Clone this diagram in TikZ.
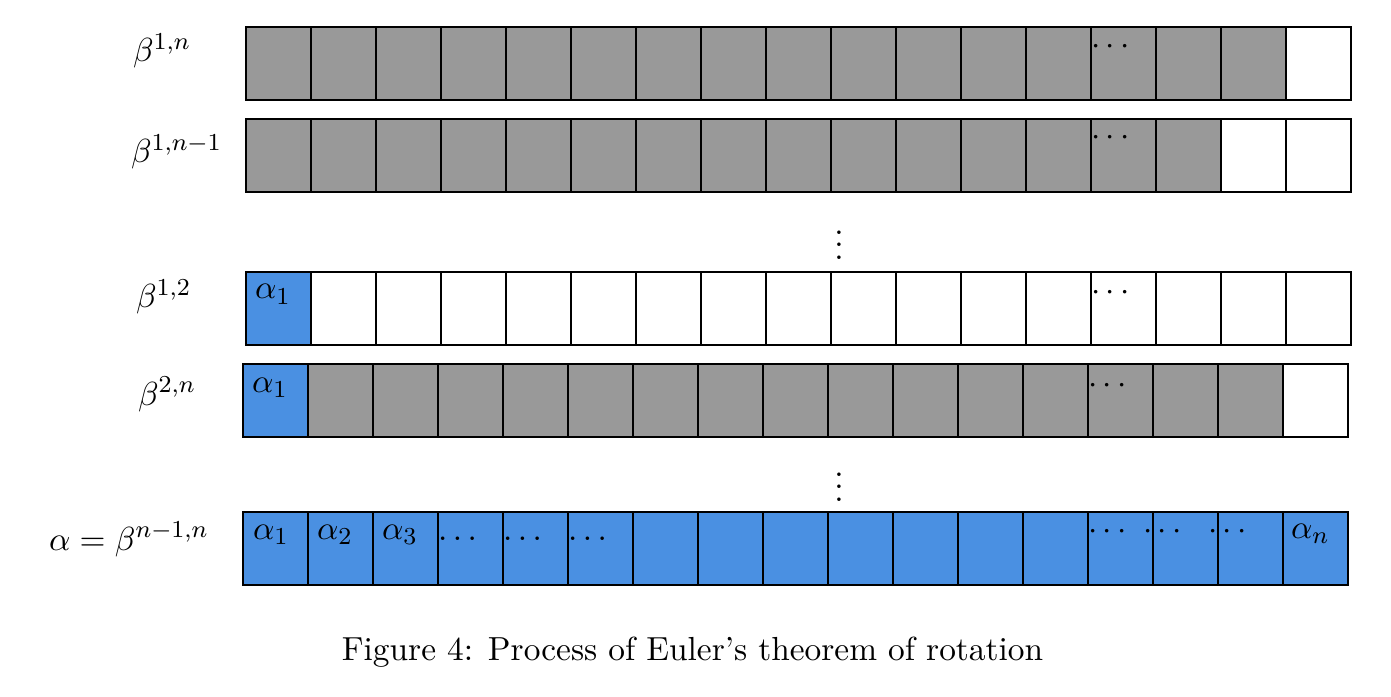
\documentclass[tikz,border=0pt]{standalone}
\definecolor{cellblue}{HTML}{4A90E2}
\definecolor{cellgray}{HTML}{999999}
\tikzset{
  cell/.style={draw=black, thick, rectangle, anchor=north west, minimum width=0.75cm, minimum height=0.8423cm, inner sep=0pt, outer sep=0pt},
  graycell/.style={cell, fill=cellgray},
  bluecell/.style={cell, fill=cellblue},
  whitecell/.style={cell, fill=white},
  txt/.style={font=\fontsize{10.95}{13.6}\selectfont, inner sep=0pt, outer sep=0pt, anchor=base west},
  ctxt/.style={txt, anchor=base},
}
\begin{document}
\begin{tikzpicture}[x=0.011538cm, y=-0.011538cm]
\useasboundingbox (0,0) rectangle (1391,697);

% Row 1: beta^{1,n}
\foreach \i in {1,...,16} \node[graycell] (a\i) at ({246+65*(\i-1)},27) {};
\node[whitecell] (a17) at (1286,27) {};
\node[txt] (a14t) at (1091,55) {$\cdots$};
\node[txt] (lab1) at (133,62) {$\beta^{1,n}$};

% Row 2: beta^{1,n-1}
\foreach \i in {1,...,15} \node[graycell] (b\i) at ({246+65*(\i-1)},119) {};
\node[whitecell] (b16) at (1221,119) {};
\node[whitecell] (b17) at (1286,119) {};
\node[txt] (b14t) at (1091,146) {$\cdots$};
\node[txt] (lab2) at (131,163) {$\beta^{1,n-1}$};

\node[ctxt] (vd1) at (839,259) {$\vdots$};

% Row 3: beta^{1,2}
\node[bluecell] (c1) at (246,272) {};
\foreach \i in {2,...,17} \node[whitecell] (c\i) at ({246+65*(\i-1)},272) {};
\node[txt] (c1t) at (255,299) {$\alpha_1$};
\node[txt] (c14t) at (1091,301) {$\cdots$};
\node[txt] (lab3) at (136,308) {$\beta^{1,2}$};

% Row 4: beta^{2,n}
\node[bluecell] (d1) at (243,364) {};
\foreach \i in {2,...,16} \node[graycell] (d\i) at ({243+65*(\i-1)},364) {};
\node[whitecell] (d17) at (1283,364) {};
\node[txt] (d1t) at (252,392) {$\alpha_1$};
\node[txt] (d14t) at (1088,393) {$\cdots$};
\node[txt] (lab4) at (138,405) {$\beta^{2,n}$};

\node[ctxt] (vd2) at (839,501) {$\vdots$};

% Row 5: alpha = beta^{n-1,n}
\foreach \i in {1,...,17} \node[bluecell] (e\i) at ({243+65*(\i-1)},512) {};
\node[txt] (e1t) at (253,539) {$\alpha_1$};
\node[txt] (e2t) at (317,539) {$\alpha_2$};
\node[txt] (e3t) at (382,539) {$\alpha_3$};
\node[txt] (e4t) at (438,540) {$\ldots$};
\node[txt] (e5t) at (503,540) {$\ldots$};
\node[txt] (e6t) at (568,540) {$\ldots$};
\node[txt] (e14t) at (1088,539) {$\cdots$};
\node[txt] (e15t) at (1143,539) {$\cdots$};
\node[txt] (e16t) at (1208,539) {$\cdots$};
\node[txt] (e17t) at (1291,538) {$\alpha_n$};
\node[txt] (lab5) at (49,550) {$\alpha=\beta^{n-1,n}$};

% Caption
\node[ctxt] (cap) at (692.5,660) {Figure 4: Process of Euler's theorem of rotation};
\end{tikzpicture}
\end{document}
